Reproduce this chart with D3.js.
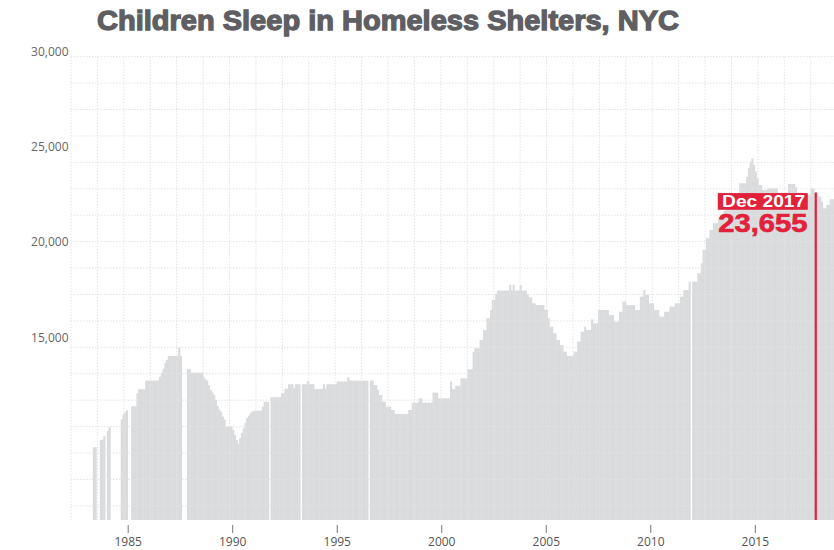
<!DOCTYPE html>
<html><head><meta charset="utf-8">
<script src="https://cdn.jsdelivr.net/npm/d3@7"></script>
<style>body{margin:0;background:#fff;}svg{display:block;}</style>
</head><body>
<svg id="chart" width="834" height="550"></svg>
<script>
// ---- DATA: monthly count of children in NYC homeless shelters (Jan..Dec, null = no data)
const firstYear = 1983;
const c1983 = [null, null, null, null, 9220, 9220, null, null, 9600, 9620, 9810, null];
const c1984 = [10090, 10270, null, null, null, null, null, null, 10690, 10916, 11050, 11178];
const c1985 = [null, null, 11370, 11370, 11370, 12060, 12270, 12270, 12270, 12270, 12720, 12720];
const c1986 = [12720, 12720, 12720, 12720, 12720, 12720, 12930, 13140, 13350, 13630, 13810, 14020];
const c1987 = [14020, 14020, 14020, 14020, 14020, 14470, 14020, null, null, null, 13330, 13330];
const c1988 = [13140, 13140, 13140, 13140, 13140, 13140, 13140, 12930, 12800, 12720, 12490, 12230];
const c1989 = [12100, 11970, 11700, 11390, 11200, 11090, 10830, 10690, 10300, 10300, 10300, 10300];
const c1990 = [10130, 9870, 9600, 9390, 9710, 9970, 10230, 10500, 10760, 10890, 11020, 11100];
const c1991 = [11140, 11140, 11140, 11140, 11140, 11350, 11610, 11610, 11610, null, 11850, 11850];
const c1992 = [11850, 11850, 11850, 11850, 12060, 12060, 12300, 12300, 12530, 12530, 12530, 12320];
const c1993 = [12530, 12530, 12530, null, 12530, 12530, 12530, 12700, 12530, 12530, 12530, 12280];
const c1994 = [12280, 12280, 12280, 12280, 12530, 12300, 12530, 12530, 12530, 12530, 12530, 12530];
const c1995 = [12670, 12670, 12670, 12670, 12670, 12670, 12900, 12720, 12720, 12720, 12720, 12720];
const c1996 = [12720, 12720, 12720, 12720, 12720, 12720, null, 12720, 12720, 12490, 12490, 12230];
const c1997 = [11970, 11970, 11610, 11610, 11350, 11350, 11350, 11180, 11180, 10970, 10970, 10970];
const c1998 = [10970, 10970, 10970, 10970, 10970, 11180, 11180, 11560, 11560, 11560, 11560, 11790];
const c1999 = [11790, 11560, 11560, 11560, 11560, 11560, 11560, 12090, 12090, 12090, 11790, 11790];
const c2000 = [11790, 11790, 11790, 11790, 11790, 12670, 12270, 12270, 12450, 12450, 12450, 12840];
const c2001 = [12840, 12840, 12840, 13320, 13320, 13320, 14240, 14420, 14420, 14420, 14860, 14860];
const c2002 = [15380, 15380, 16000, 16000, 16430, 16960, 16960, 17270, 17450, 17450, 17450, 17450];
const c2003 = [17450, 17450, 17450, 17750, 17450, 17750, 17450, 17450, 17450, 17750, 17450, 17450];
const c2004 = [17450, 17270, 17100, 17100, 16780, 16780, 16690, 16690, 16690, 16690, 16690, 16430];
const c2005 = [16430, 16000, 15550, 15550, 15210, 15210, 14860, 14860, 14590, 14590, 14240, 14240];
const c2006 = [14020, 14020, 14020, 14020, 14240, 14240, 14770, 14770, 15290, 15290, 15550, 15380];
const c2007 = [15380, 15380, 15940, 15730, 15730, 15730, 16430, 16430, 16430, 16430, 16430, 16430];
const c2008 = [16170, 16170, 16170, 15820, 15820, 15820, 16340, 16340, 16870, 16870, 16690, 16690];
const c2009 = [16690, 16690, 16690, 16430, 16430, 16430, 17130, 17130, 17480, 17220, 17220, 16780];
const c2010 = [16780, 16780, 16430, 16430, 16430, 16080, 16080, 16080, 16340, 16340, 16340, 16610];
const c2011 = [16610, 16610, 16780, 16780, 16780, 17130, 17130, 17480, 17480, 17480, 17920, null];
const c2012 = [17920, 17920, 17920, 18360, 18360, 18880, 19580, 19580, 20200, 20200, 20630, 20630];
const c2013 = [20990, 20990, 20990, 21200, 21350, 21500, 21650, 21800, 21900, 22000, 22100, 22200];
const c2014 = [22300, 22400, 22500, 23090, 23090, 23090, 23090, 23430, 23880, 24220, 24400, 24050];
const c2015 = [23700, 23350, 23000, 23000, 22740, 22740, 22740, 22820, 22820, 22820, 22820, 22820];
const c2016 = [22820, 22590, 22590, 22590, 22590, 22590, 22590, 23050, 23050, 23050, 23050, 22880];
const c2017 = [22590, 22590, 22590, 22590, 22470, 22470, 22470, 22470, 22820, 22820, 22590, 22600];
const c2018 = [22380, 22380, 22120, 21770, 21770, 21950, 21950, 22250, 22250, 22250];
const yearlyCounts = [c1983, c1984, c1985, c1986, c1987, c1988, c1989, c1990, c1991, c1992,
  c1993, c1994, c1995, c1996, c1997, c1998, c1999, c2000, c2001, c2002, c2003, c2004, c2005,
  c2006, c2007, c2008, c2009, c2010, c2011, c2012, c2013, c2014, c2015, c2016, c2017, c2018];

const xTickYears = [1985, 1990, 1995, 2000, 2005, 2010, 2015];
const yTickValues = [15000, 20000, 25000, 30000];
const titleText = "Children Sleep in Homeless Shelters, NYC";
const highlightYear = 2017, highlightMonth = 11;
const highlightDateLabel = "Dec 2017";
const highlightValueLabel = "23,655";

// ---- CHART
const svg = d3.select("#chart");
const W = 834, H = 550;
const yBase = 5400;
const x = d3.scaleLinear().domain([1985, 2015]).range([127.7, 754.8]);
const y = d3.scaleLinear().domain([yBase, 30000]).range([520, 51.7]);

const bars = [];
yearlyCounts.forEach((arr, i) => arr.forEach((v, m) => {
  if (v != null) bars.push({ t: firstYear + i + m / 12, v });
}));

svg.append("g").selectAll("rect").data(bars).join("rect")
  .attr("x", d => x(d.t))
  .attr("width", d => x(d.t + 1 / 12) - x(d.t) + 0.4)
  .attr("y", d => y(d.v))
  .attr("height", d => y(yBase) - y(d.v))
  .attr("fill", "#dadbdd");

// decorative dotted square grid
const gridStep = 26.42, gridLeft = 71, gridTop = 56.7;
const grid = svg.append("g").attr("stroke", "#e3e3e3").attr("stroke-width", 1)
  .attr("stroke-dasharray", "1.5,1.5").attr("fill", "none");
grid.selectAll("line.v").data(d3.range(gridLeft, W + 1, gridStep)).join("line")
  .attr("class", "v").attr("x1", d => d).attr("x2", d => d)
  .attr("y1", gridTop).attr("y2", y(yBase));
grid.selectAll("line.h").data(d3.range(gridTop, y(yBase), gridStep)).join("line")
  .attr("class", "h").attr("y1", d => d).attr("y2", d => d)
  .attr("x1", gridLeft).attr("x2", W);

// y axis
const yAxis = svg.append("g").attr("transform", `translate(${gridLeft},0)`)
  .call(d3.axisLeft(y).tickValues(yTickValues).tickFormat(d3.format(",")).tickSize(0).tickPadding(2.5));
yAxis.select(".domain").remove();
yAxis.selectAll("text").attr("fill", "#666").attr("font-family", "'Open Sans', sans-serif").attr("font-size", 12);

// x axis
const xAxis = svg.append("g").attr("transform", `translate(0,${y(yBase) + 5})`)
  .call(d3.axisBottom(x).tickValues(xTickYears).tickFormat(d3.format("d")).tickSize(8).tickPadding(4.5));
xAxis.select(".domain").remove();
xAxis.selectAll("line").attr("stroke", "#777");
xAxis.selectAll("text").attr("fill", "#555").attr("font-family", "'Open Sans', sans-serif").attr("font-size", 12);

// highlight
const hv = yearlyCounts[highlightYear - firstYear][highlightMonth];
const hx = x(highlightYear + highlightMonth / 12);
const red = "#e2213b";
svg.append("line").attr("x1", hx).attr("x2", hx).attr("y1", y(hv)).attr("y2", y(yBase))
  .attr("stroke", red).attr("stroke-width", 2.2);
const boxW = 90, boxX = hx - 8 - boxW, boxY = y(hv) + 0.5;
svg.append("rect").attr("x", boxX).attr("y", boxY).attr("width", boxW).attr("height", 16.7).attr("fill", red);
svg.append("text").attr("x", boxX + 4.3).attr("y", boxY + 14.3)
  .attr("font-family", "'Liberation Sans', Arial, sans-serif").attr("font-weight", 700).attr("font-size", 16)
  .attr("fill", "#fff").attr("textLength", 83).attr("lengthAdjust", "spacingAndGlyphs")
  .text(highlightDateLabel);
svg.append("text").attr("x", boxX + 0.6).attr("y", boxY + 38.6)
  .attr("font-family", "'Liberation Sans', Arial, sans-serif").attr("font-weight", 700).attr("font-size", 26)
  .attr("fill", red).attr("stroke", red).attr("stroke-width", 0.7)
  .attr("textLength", 89).attr("lengthAdjust", "spacingAndGlyphs")
  .text(highlightValueLabel);

// title
svg.append("text").attr("x", 97).attr("y", 30.3)
  .attr("font-family", "'Liberation Sans', Arial, sans-serif").attr("font-weight", 700).attr("font-size", 28.5)
  .attr("fill", "#5e5e63").attr("stroke", "#5e5e63").attr("stroke-width", 1.3)
  .attr("textLength", 582).attr("lengthAdjust", "spacingAndGlyphs")
  .text(titleText);
</script>
</body></html>
